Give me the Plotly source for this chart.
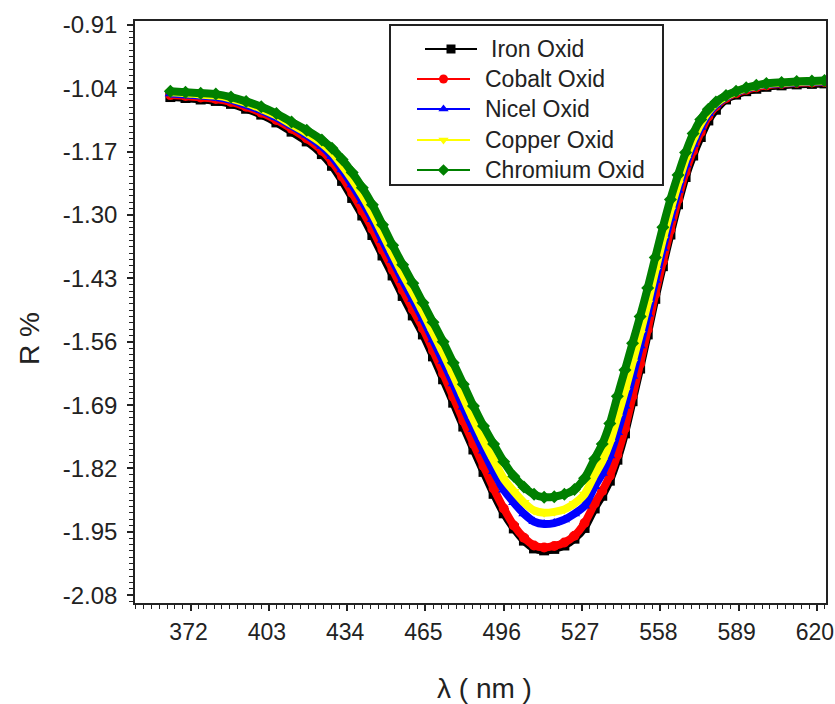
import plotly.graph_objects as go

wavelength = [364, 370, 376, 382, 388, 394, 400, 406, 412, 418, 424, 428, 432, 436, 440,
              444, 448, 452, 456, 460, 464, 468, 472, 476, 480, 484, 488, 492, 496, 500,
              504, 508, 512, 516, 520, 524, 528, 532, 535, 538, 541, 544, 547, 550, 553,
              556, 559, 562, 565, 568, 571, 574, 577, 580, 584, 588, 592, 596, 600, 606,
              612, 618, 623]

iron_oxid = [-1.058, -1.060, -1.063, -1.066, -1.072, -1.082, -1.094, -1.110, -1.129, -1.149,
             -1.175, -1.199, -1.230, -1.265, -1.301, -1.341, -1.383, -1.424, -1.466, -1.506,
             -1.545, -1.590, -1.637, -1.685, -1.734, -1.781, -1.827, -1.872, -1.912, -1.943,
             -1.968, -1.984, -1.988, -1.985, -1.978, -1.964, -1.942, -1.902, -1.876, -1.845,
             -1.802, -1.748, -1.682, -1.615, -1.545, -1.472, -1.405, -1.340, -1.278, -1.222,
             -1.178, -1.140, -1.106, -1.084, -1.063, -1.053, -1.046, -1.041, -1.037, -1.034,
             -1.032, -1.031, -1.030]

cobalt_oxid = [-1.054, -1.056, -1.059, -1.062, -1.068, -1.078, -1.090, -1.105, -1.123, -1.143,
               -1.168, -1.191, -1.221, -1.255, -1.291, -1.329, -1.371, -1.412, -1.454, -1.494,
               -1.533, -1.578, -1.625, -1.673, -1.722, -1.769, -1.815, -1.861, -1.902, -1.937,
               -1.962, -1.978, -1.982, -1.979, -1.972, -1.958, -1.932, -1.892, -1.866, -1.835,
               -1.792, -1.738, -1.672, -1.605, -1.535, -1.462, -1.395, -1.330, -1.268, -1.212,
               -1.168, -1.130, -1.098, -1.077, -1.060, -1.050, -1.043, -1.038, -1.034, -1.031,
               -1.029, -1.028, -1.027]

nicel_oxid = [-1.051, -1.053, -1.055, -1.058, -1.064, -1.074, -1.085, -1.100, -1.117, -1.136,
              -1.159, -1.180, -1.207, -1.238, -1.272, -1.309, -1.352, -1.393, -1.434, -1.473,
              -1.513, -1.556, -1.600, -1.646, -1.694, -1.740, -1.784, -1.826, -1.864, -1.890,
              -1.913, -1.929, -1.934, -1.932, -1.925, -1.913, -1.897, -1.857, -1.830, -1.794,
              -1.746, -1.692, -1.631, -1.568, -1.503, -1.434, -1.368, -1.306, -1.249, -1.197,
              -1.155, -1.120, -1.092, -1.074, -1.058, -1.048, -1.041, -1.036, -1.032, -1.030,
              -1.028, -1.027, -1.026]

copper_oxid = [-1.048, -1.050, -1.053, -1.055, -1.061, -1.070, -1.082, -1.096, -1.114, -1.132,
               -1.153, -1.172, -1.198, -1.227, -1.260, -1.297, -1.338, -1.380, -1.421, -1.459,
               -1.499, -1.541, -1.583, -1.628, -1.674, -1.720, -1.763, -1.803, -1.841, -1.867,
               -1.890, -1.906, -1.911, -1.909, -1.904, -1.892, -1.873, -1.833, -1.805, -1.767,
               -1.715, -1.661, -1.602, -1.543, -1.481, -1.414, -1.350, -1.290, -1.236, -1.186,
               -1.146, -1.113, -1.088, -1.071, -1.057, -1.047, -1.040, -1.035, -1.031, -1.029,
               -1.027, -1.026, -1.025]

chromium_oxid = [-1.046, -1.048, -1.050, -1.052, -1.058, -1.067, -1.078, -1.092, -1.109, -1.126,
                 -1.146, -1.163, -1.186, -1.213, -1.244, -1.279, -1.320, -1.362, -1.402, -1.440,
                 -1.480, -1.520, -1.560, -1.603, -1.647, -1.692, -1.733, -1.770, -1.806, -1.836,
                 -1.858, -1.873, -1.879, -1.878, -1.873, -1.863, -1.840, -1.800, -1.770, -1.728,
                 -1.672, -1.618, -1.563, -1.508, -1.450, -1.387, -1.325, -1.268, -1.218, -1.172,
                 -1.133, -1.104, -1.083, -1.068, -1.055, -1.046, -1.039, -1.034, -1.030, -1.028,
                 -1.026, -1.025, -1.024]

series_names = ["Iron Oxid", "Cobalt Oxid", "Nicel Oxid", "Copper Oxid", "Chromium Oxid"]
series_values = [iron_oxid, cobalt_oxid, nicel_oxid, copper_oxid, chromium_oxid]
series_colors = ["#000000", "#ff0000", "#0000ff", "#ffff00", "#008000"]
series_symbols = ["square", "circle", "triangle-up", "triangle-down", "diamond"]

x_tick_values = [372, 403, 434, 465, 496, 527, 558, 589, 620]
x_tick_labels = ["372", "403", "434", "465", "496", "527", "558", "589", "620"]
y_tick_values = [-0.91, -1.04, -1.17, -1.30, -1.43, -1.56, -1.69, -1.82, -1.95, -2.08]
y_tick_labels = ["-0.91", "-1.04", "-1.17", "-1.30", "-1.43", "-1.56", "-1.69", "-1.82", "-1.95", "-2.08"]
x_title = "λ ( nm )"
y_title = "R %"

FONT = "Liberation Sans, Arial, sans-serif"
TXT = "#222222"
W, H = 835, 704
ML, MR, MT, MB = 135, 9, 21, 101
PW, PH = W - ML - MR, H - MT - MB


def px_x(p):
    return (p - ML) / PW


def px_y(p):
    return (H - MB - p) / PH


fig = go.Figure()

for name, vals, col, sym in zip(series_names, series_values, series_colors, series_symbols):
    fig.add_trace(go.Scatter(
        x=wavelength, y=vals, mode="lines+markers", name=name, showlegend=False,
        line=dict(color=col, width=8, shape="spline", smoothing=0.6),
        marker=dict(color=col, symbol=sym, size=10, line=dict(width=0)),
    ))

# hand-made legend (box, sample lines, markers, labels)
leg_rows_px = [49, 79, 109, 140, 170]
leg_line_px = [(425, 477), (417, 470), (417, 470), (417, 470), (417, 470)]
leg_text_px = [489, 483, 483, 483, 483]

shapes = [dict(type="rect", xref="paper", yref="paper",
               x0=px_x(390), x1=px_x(663), y0=px_y(185), y1=px_y(25),
               line=dict(color="#222222", width=2), fillcolor="white", layer="below")]
annotations = []
for name, col, sym, ry, (lx0, lx1), tx in zip(series_names, series_colors, series_symbols,
                                               leg_rows_px, leg_line_px, leg_text_px):
    shapes.append(dict(type="line", xref="paper", yref="paper",
                       x0=px_x(lx0), x1=px_x(lx1), y0=px_y(ry), y1=px_y(ry),
                       line=dict(color=col, width=2), layer="below"))
    annotations.append(dict(xref="paper", yref="paper", x=px_x(tx), y=px_y(ry),
                            xanchor="left", yanchor="middle", showarrow=False, text=name,
                            font=dict(family=FONT, size=23, color=TXT)))
    fig.add_trace(go.Scatter(
        x=[px_x((lx0 + lx1) / 2)], y=[px_y(ry)], xaxis="x2", yaxis="y2",
        mode="markers", showlegend=False, hoverinfo="skip",
        marker=dict(color=col, symbol=sym, size=9, line=dict(width=0)),
    ))

# axis titles
annotations.append(dict(xref="paper", yref="paper", x=px_x(484), y=px_y(688),
                        xanchor="center", yanchor="middle", showarrow=False, text=x_title,
                        font=dict(family=FONT, size=28, color=TXT)))
annotations.append(dict(xref="paper", yref="paper", x=px_x(29), y=px_y(339),
                        xanchor="center", yanchor="middle", showarrow=False, text=y_title,
                        textangle=-90, font=dict(family=FONT, size=28, color=TXT)))

axis_common = dict(
    tickmode="array", showgrid=False, zeroline=False, automargin=False,
    showline=True, linecolor="#222222", linewidth=1.5, mirror=True,
    ticks="outside", ticklen=6, tickwidth=1.5, tickcolor="#222222",
    ticklabeloverflow="allow",
)

fig.update_layout(
    width=W, height=H,
    margin=dict(l=ML, r=MR, t=MT, b=MB),
    paper_bgcolor="white", plot_bgcolor="white",
    font=dict(family=FONT, size=24, color=TXT),
    showlegend=False,
    shapes=shapes,
    annotations=annotations,
    xaxis=dict(
        range=[350, 623.6], tickvals=x_tick_values, ticktext=x_tick_labels,
        ticklabelstandoff=2, ticklabelshift=-2,
        tickfont=dict(family=FONT, size=23, color=TXT),
        minor=dict(ticks="outside", ticklen=4, tickwidth=1, tickcolor="#222222", tick0=372, dtick=3.1),
        **axis_common,
    ),
    yaxis=dict(
        range=[-2.096, -0.902], tickvals=y_tick_values, ticktext=y_tick_labels,
        ticklabelstandoff=5,
        tickfont=dict(family=FONT, size=24, color=TXT),
        minor=dict(ticks="outside", ticklen=4, tickwidth=1, tickcolor="#222222", tick0=-0.91, dtick=0.013),
        **axis_common,
    ),
    xaxis2=dict(overlaying="x", range=[0, 1], visible=False, fixedrange=True),
    yaxis2=dict(overlaying="y", range=[0, 1], visible=False, fixedrange=True),
)

fig.write_html(
    "out.html",
    config={"displayModeBar": False},
    post_script="document.body.style.margin='0px';document.body.style.overflow='hidden';",
)
